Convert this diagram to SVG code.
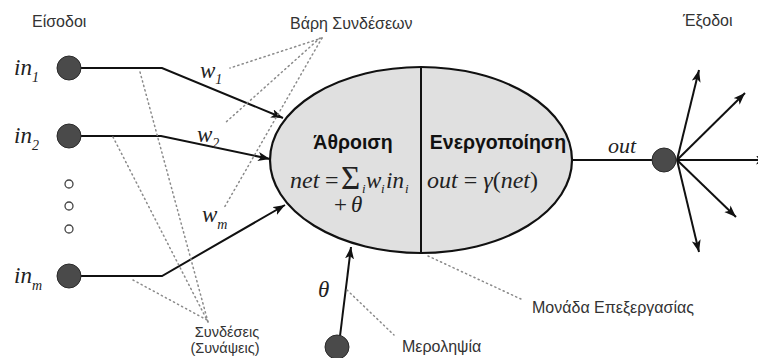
<svg xmlns="http://www.w3.org/2000/svg" width="758" height="358" viewBox="0 0 758 358">
<defs>
<style>
.lbl{font-family:"Liberation Sans",Arial,sans-serif;font-size:16px;fill:#333}
.sm{font-size:14.5px}
.bold{font-family:"Liberation Sans",Arial,sans-serif;font-size:19.5px;font-weight:bold;fill:#111}
.m{font-family:"Liberation Serif","Times New Roman",serif;font-style:italic;fill:#222}
.up{font-family:"Liberation Serif","Times New Roman",serif;font-style:normal;fill:#222}
.wire{stroke:#111;stroke-width:2;fill:none}
.dot{stroke:#8a8a8a;stroke-width:1.5;fill:none;stroke-dasharray:1.2,3.4;stroke-linecap:round}
.node{fill:#4a4a4a;stroke:#2a2a2a;stroke-width:1}
.hole{fill:#fff;stroke:#444;stroke-width:1.3}
</style>
<marker id="ah" markerUnits="userSpaceOnUse" markerWidth="13" markerHeight="10" refX="12" refY="4.5" orient="auto">
<path d="M0,0 L12,4.5 L0,9 L3,4.5 z" fill="#111"/>
</marker>
</defs>
<rect width="758" height="358" fill="#fff"/>

<g id="connectors">
<polyline class="wire" points="81,68 162,68 283,118" marker-end="url(#ah)"/>
<polyline class="wire" points="81,136 161,136 270,159" marker-end="url(#ah)"/>
<polyline class="wire" points="81,276 162,276 285,205" marker-end="url(#ah)"/>
<line class="wire" x1="340" y1="336" x2="351" y2="247" marker-end="url(#ah)"/>
<line class="wire" x1="572" y1="160" x2="652" y2="160"/>
<line class="wire" x1="677" y1="160" x2="699" y2="70" marker-end="url(#ah)"/>
<line class="wire" x1="677" y1="160" x2="745" y2="93" marker-end="url(#ah)"/>
<line class="wire" x1="677" y1="160" x2="768" y2="160" marker-end="url(#ah)"/>
<line class="wire" x1="677" y1="160" x2="736" y2="217" marker-end="url(#ah)"/>
<line class="wire" x1="677" y1="160" x2="699" y2="252" marker-end="url(#ah)"/>
</g>

<g id="annotations">
<line class="dot" x1="322" y1="38" x2="230" y2="68"/>
<line class="dot" x1="320" y1="38" x2="225" y2="123"/>
<line class="dot" x1="322" y1="38" x2="224" y2="208"/>
<line class="dot" x1="140" y1="72" x2="208" y2="322"/>
<line class="dot" x1="113" y1="137" x2="208" y2="322"/>
<line class="dot" x1="133" y1="280" x2="207" y2="320"/>
<line class="dot" x1="347" y1="290" x2="394" y2="335"/>
<line class="dot" x1="428" y1="256" x2="523" y2="300"/>
</g>

<g id="input1"><circle class="node" cx="69" cy="68" r="12"/>
<text class="m" x="14" y="75" font-size="23">in<tspan font-size="14" dy="7">1</tspan></text></g>
<g id="input2"><circle class="node" cx="69" cy="136" r="12"/>
<text class="m" x="14" y="143" font-size="23">in<tspan font-size="14" dy="7">2</tspan></text></g>
<g id="ellipsis"><circle class="hole" cx="69" cy="184" r="4"/><circle class="hole" cx="69" cy="206" r="4"/><circle class="hole" cx="69" cy="229" r="4"/></g>
<g id="inputm"><circle class="node" cx="69" cy="276" r="12"/>
<text class="m" x="14" y="283" font-size="23">in<tspan font-size="14" dy="7">m</tspan></text></g>

<g id="weights">
<text class="m" x="200" y="78" font-size="23">w<tspan font-size="14" dy="6">1</tspan></text>
<text class="m" x="197" y="142" font-size="23">w<tspan font-size="14" dy="6">2</tspan></text>
<text class="m" x="202" y="222" font-size="23">w<tspan font-size="14" dy="7">m</tspan></text>
</g>

<g id="neuron">
<ellipse cx="421" cy="160" rx="151" ry="93" fill="#e0e0e0" stroke="#111" stroke-width="2.2"/>
<line x1="421" y1="67" x2="421" y2="253" stroke="#111" stroke-width="2"/>
<text class="bold" x="353" y="149" text-anchor="middle">Άθροιση</text>
<text class="bold" x="498" y="149" text-anchor="middle">Ενεργοποίηση</text>
<text class="m" font-size="24" x="290" y="188">net</text>
<text class="up" font-size="24" x="325" y="188">=</text>
<text class="up" font-size="33" x="341" y="189">Σ</text>
<text class="m" font-size="13" x="362" y="193">i</text>
<text class="m" font-size="23" x="366" y="188">w</text>
<text class="m" font-size="13" x="381" y="193">i</text>
<text class="m" font-size="23" x="386" y="188">in</text>
<text class="m" font-size="13" x="405" y="193">i</text>
<text class="m" font-size="23" y="212"><tspan class="up" x="334">+</tspan><tspan x="351">θ</tspan></text>
<text class="m" font-size="24" x="427" y="188">out <tspan class="up">=</tspan> γ<tspan class="up">(</tspan>net<tspan class="up">)</tspan></text>
</g>

<g id="bias"><circle class="node" cx="337" cy="347" r="12"/>
<text class="m" x="318" y="297" font-size="23">θ</text></g>

<g id="output"><circle class="node" cx="664" cy="160" r="12"/>
<text class="m" x="608" y="153" font-size="22">out</text></g>

<g id="labels">
<text class="lbl" x="32" y="27">Είσοδοι</text>
<text class="lbl" x="290" y="29">Βάρη Συνδέσεων</text>
<text class="lbl" x="683" y="26">Έξοδοι</text>
<text class="lbl sm" x="227" y="337" text-anchor="middle">Συνδέσεις</text>
<text class="lbl sm" x="225" y="353" text-anchor="middle">(Συνάψεις)</text>
<text class="lbl" x="402" y="352">Μεροληψία</text>
<text class="lbl" x="532" y="313">Μονάδα Επεξεργασίας</text>
</g>
</svg>
